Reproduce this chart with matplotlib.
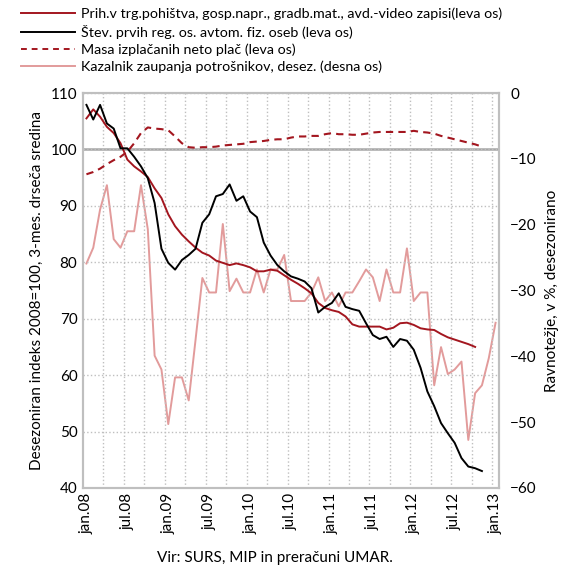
import matplotlib
matplotlib.use("Agg")
import matplotlib.pyplot as plt
from matplotlib.lines import Line2D

plt.rcParams.update({
    'font.family': ['Lato', 'DejaVu Sans'],
    'font.size': 11,
})

# months jan.08 .. jan.13 (index 0..60)
tick_labels = ['jan.08', 'jul.08', 'jan.09', 'jul.09', 'jan.10', 'jul.10',
               'jan.11', 'jul.11', 'jan.12', 'jul.12', 'jan.13']

# Prihodek v trgovini s pohistvom ... (leva os), jan.08 - okt.12
prih = [105.5, 107.1, 105.8, 104.0, 102.9, 101.1, 98.2, 97.0, 96.1, 95.1,
        93.1, 91.4, 88.5, 86.4, 84.9, 83.7, 82.6, 81.7, 81.2, 80.3,
        79.9, 79.5, 79.8, 79.5, 79.1, 78.4, 78.4, 78.7, 78.5, 77.7,
        76.9, 76.2, 75.4, 74.5, 72.8, 71.9, 71.5, 71.2, 70.4, 69.0,
        68.6, 68.6, 68.6, 68.6, 68.1, 68.4, 69.2, 69.3, 68.9, 68.3,
        68.1, 68.0, 67.3, 66.7, 66.3, 65.9, 65.5, 65.0]

# Stevilo prvih registracij osebnih avtomobilov (leva os), jan.08 - nov.12
avto = [107.9, 105.3, 107.9, 104.6, 103.7, 100.2, 100.2, 98.7, 97.0, 94.9,
        90.5, 82.4, 79.9, 78.7, 80.4, 81.3, 82.4, 87.0, 88.5, 91.7,
        92.1, 93.8, 90.9, 91.7, 89.0, 88.0, 83.5, 81.2, 79.5, 78.4,
        77.5, 77.1, 76.6, 75.4, 71.1, 72.1, 72.8, 74.5, 72.1, 71.7,
        71.4, 69.2, 67.1, 66.4, 66.8, 65.0, 66.4, 66.1, 64.5, 61.3,
        57.1, 54.5, 51.5, 49.7, 48.0, 45.3, 43.8, 43.5, 43.0]

# Masa izplacanih neto plac (leva os), jan.08 - nov.12
place = [95.6, 96.0, 96.6, 97.4, 98.1, 98.7, 99.6, 101.1, 102.9, 103.9,
         103.7, 103.6, 103.4, 102.3, 101.1, 100.4, 100.3, 100.4, 100.4, 100.5,
         100.7, 100.8, 100.9, 101.0, 101.3, 101.4, 101.5, 101.7, 101.8, 101.8,
         102.1, 102.3, 102.3, 102.4, 102.4, 102.7, 102.9, 102.7, 102.7, 102.6,
         102.6, 102.8, 103.0, 103.1, 103.1, 103.1, 103.1, 103.1, 103.3, 103.1,
         103.0, 102.8, 102.4, 102.1, 101.8, 101.5, 101.2, 100.9, 100.5]

# Kazalnik zaupanja potrosnikov, desez. (desna os), jan.08 - jan.13
zaupanje = [-25.9, -23.5, -17.7, -14.0, -22.2, -23.5, -21.0, -21.0, -14.0, -20.7,
            -39.9, -42.0, -50.3, -43.2, -43.2, -46.7, -37.5, -28.1, -30.3, -30.3,
            -19.9, -30.1, -28.2, -30.3, -30.3, -26.8, -30.3, -26.8, -26.8, -24.6,
            -31.6, -31.6, -31.6, -30.3, -28.0, -31.6, -30.3, -32.4, -30.3, -30.3,
            -28.6, -26.8, -28.0, -31.6, -26.8, -30.3, -30.3, -23.6, -31.6, -30.3,
            -30.3, -44.4, -38.6, -42.7, -42.0, -40.8, -52.7, -45.6, -44.4, -40.3,
            -34.9]

labels = ['Prih.v trg.pohištva, gosp.napr., gradb.mat., avd.-video zapisi(leva os)',
          'Štev. prvih reg. os. avtom. fiz. oseb (leva os)',
          'Masa izplačanih neto plač (leva os)',
          'Kazalnik zaupanja potrošnikov, desez. (desna os)']

c_prih = '#A3161F'
c_pink = '#E29B9B'
grid_c = '#BFBFBF'

fig = plt.figure(figsize=(5.79, 5.70), dpi=100)
ax = fig.add_axes([0.1434, 0.1439, 0.7184, 0.6929])
ax2 = ax.twinx()
ax.set_zorder(ax2.get_zorder() + 1)
ax.patch.set_visible(False)

ax2.plot(range(len(zaupanje)), zaupanje, color=c_pink, lw=1.4)
ax.plot(range(len(place)), place, color=c_prih, lw=1.5, ls=(0, (3.5, 2.5)))
ax.plot(range(len(prih)), prih, color=c_prih, lw=1.4)
ax.plot(range(len(avto)), avto, color='black', lw=1.4)

ax.axhline(100, color='#A6A6A6', lw=1.8, zorder=1)

ax.set_xlim(-0.5, 60.5)
ax.set_ylim(40, 110)
ax2.set_ylim(-60, 0)
ax.set_yticks(range(40, 111, 10))
ax2.set_yticks(range(-60, 1, 10))
ax.set_xticks(range(0, 61, 6))
ax.set_xticklabels(tick_labels, rotation=90)
ax.set_xticks([i - 0.5 for i in range(3, 61, 3)], minor=True)

ax.grid(True, axis='y', which='major', color=grid_c, ls=':', lw=1)
ax.grid(True, axis='x', which='minor', color=grid_c, ls=':', lw=1)
ax.tick_params(which='both', length=0, labelsize=11)
ax.tick_params(axis='y', pad=4)
ax2.tick_params(length=0, labelsize=11, pad=8)

for a in (ax, ax2):
    for s in a.spines.values():
        s.set_color('#BFBFBF')
        s.set_linewidth(1.5)

ax.set_ylabel('Desezoniran indeks 2008=100, 3-mes. drseča sredina', labelpad=5)
ax2.set_ylabel('Ravnotežje, v %, desezonirano', labelpad=6)

fig.text(0.474, 0.021, 'Vir: SURS, MIP in preračuni UMAR.', ha='center',
         va='center', fontsize=11)

handles = [Line2D([], [], color=c_prih, lw=1.4),
           Line2D([], [], color='black', lw=1.4),
           Line2D([], [], color=c_prih, lw=1.4, ls=(0, (3, 2.5))),
           Line2D([], [], color=c_pink, lw=1.4)]
fig.legend(handles, labels, loc='upper left', bbox_to_anchor=(0.022, 1.0),
           frameon=False, handlelength=3.8, handletextpad=0.45,
           labelspacing=0.32, fontsize=10.3, borderaxespad=0.15)

fig.savefig('out.png', dpi=100)
